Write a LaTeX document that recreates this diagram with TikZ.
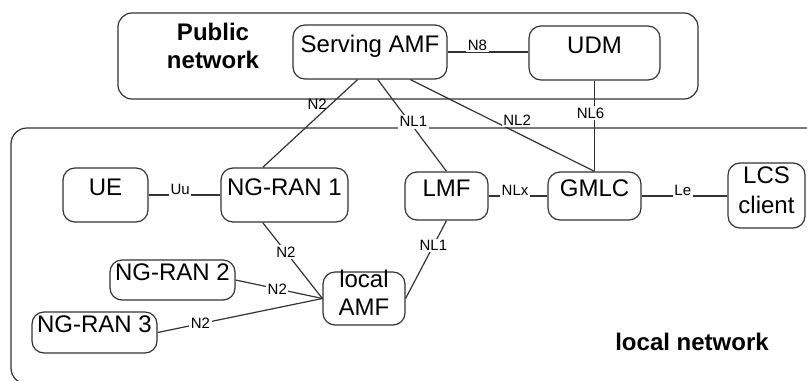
\documentclass[tikz,border=0pt]{standalone}
\usepackage{fontspec}
\setmainfont{Liberation Sans}
\usetikzlibrary{calc}

\begin{document}
\begin{tikzpicture}[x=0.5pt,y=-0.5pt,
  lcsbox/.style={draw=black!80,line width=0.6pt,rounded corners=6pt,inner sep=0pt,
    font=\fontsize{12}{14}\selectfont,align=center},
  lcsone/.style={lcsbox,text height=0pt,text depth=0pt},
  lcslink/.style={draw=black!80,line width=0.6pt},
  lcstag/.style={font=\fontsize{7.5}{9}\selectfont,fill=white,inner sep=0.8pt},
  lcsnet/.style={font=\fontsize{12}{14}\selectfont\bfseries,align=center}
]
  \clip (0,0) rectangle (807,380);
  % Network areas
  \draw[lcslink,rounded corners=7pt] (118,13) rectangle (698,99);
  \draw[lcslink,rounded corners=8pt] (11,128) rectangle (830,384);
  \node[lcsnet] (pubnet) at (213,46) {Public\\network};
  \node[lcsnet] (locnet) at (692,342) {local network};
  % Public network functions
  \node[lcsone,minimum width=77pt,minimum height=27pt] (samf) at (370,52) {Serving AMF};
  \node[lcsone,minimum width=65.5pt,minimum height=27pt] (udm) at (594.5,53) {UDM};
  % Local network functions
  \node[lcsone,minimum width=42.5pt,minimum height=27pt] (ue) at (105.5,195) {UE};
  \node[lcsone,minimum width=63.5pt,minimum height=27pt] (ran1) at (284.5,195) {NG-RAN 1};
  \node[lcsone,minimum width=41.5pt,minimum height=24pt] (lmf) at (446.5,196) {LMF};
  \node[lcsone,minimum width=46.5pt,minimum height=24pt] (gmlc) at (594.5,196) {GMLC};
  \node[lcsbox,minimum width=38.5pt,text height=25pt,text depth=7.5pt] (lcs) at (766.5,195.5) {LCS\\[1pt]client};
  \node[lcsone,minimum width=62.5pt,minimum height=20pt] (ran2) at (172.5,280) {NG-RAN 2};
  \node[lcsone,minimum width=62.5pt,minimum height=20.5pt] (ran3) at (94.5,332.5) {NG-RAN 3};
  \node[lcsbox,minimum width=41pt,text height=21.5pt,text depth=5pt] (lamf) at (364,298.5) {local\\AMF};
  % Interfaces
  \draw[lcslink] (samf.east) -- node[lcstag,pos=.37,yshift=3.5pt] {N8} (samf.east -| udm.west);
  \draw[lcslink] ($(samf.south west)!.42!(samf.south east)$)
    -- node[lcstag,fill=none,pos=.28,left=1pt] {N2} ($(ran1.north west)!.33!(ran1.north east)$);
  \draw[lcslink] ($(samf.south west)!.55!(samf.south east)$)
    -- node[lcstag,pos=.46,xshift=2pt] {NL1} (lmf.north);
  \draw[lcslink] ($(samf.south west)!.76!(samf.south east)$)
    -- node[lcstag,pos=.58,yshift=6.5pt] {NL2} (gmlc.north);
  \draw[lcslink] (udm.south) -- node[lcstag,pos=.36,xshift=-2pt] {NL6} (gmlc.north);
  \draw[lcslink] (ue.east) -- node[lcstag,pos=.44,yshift=3pt] {Uu} (ran1.west);
  \draw[lcslink] (lmf.east) -- node[lcstag,pos=.45,yshift=3pt] {NLx} (lmf.east -| gmlc.west);
  \draw[lcslink] (gmlc.east) -- node[lcstag,pos=.48,yshift=3pt] {Le} (gmlc.east -| lcs.west);
  \draw[lcslink] ($(ran1.south west)!.33!(ran1.south east)$) -- node[lcstag,pos=.39] {N2} (lamf.west);
  \draw[lcslink] (ran2.east) -- node[lcstag,pos=.48] {N2} (lamf.west);
  \draw[lcslink] (ran3.east) -- node[lcstag,pos=.26] {N2} (lamf.west);
  \draw[lcslink] (lmf.south) -- node[lcstag,pos=.32] {NL1} (lamf.east);
\end{tikzpicture}
\end{document}
